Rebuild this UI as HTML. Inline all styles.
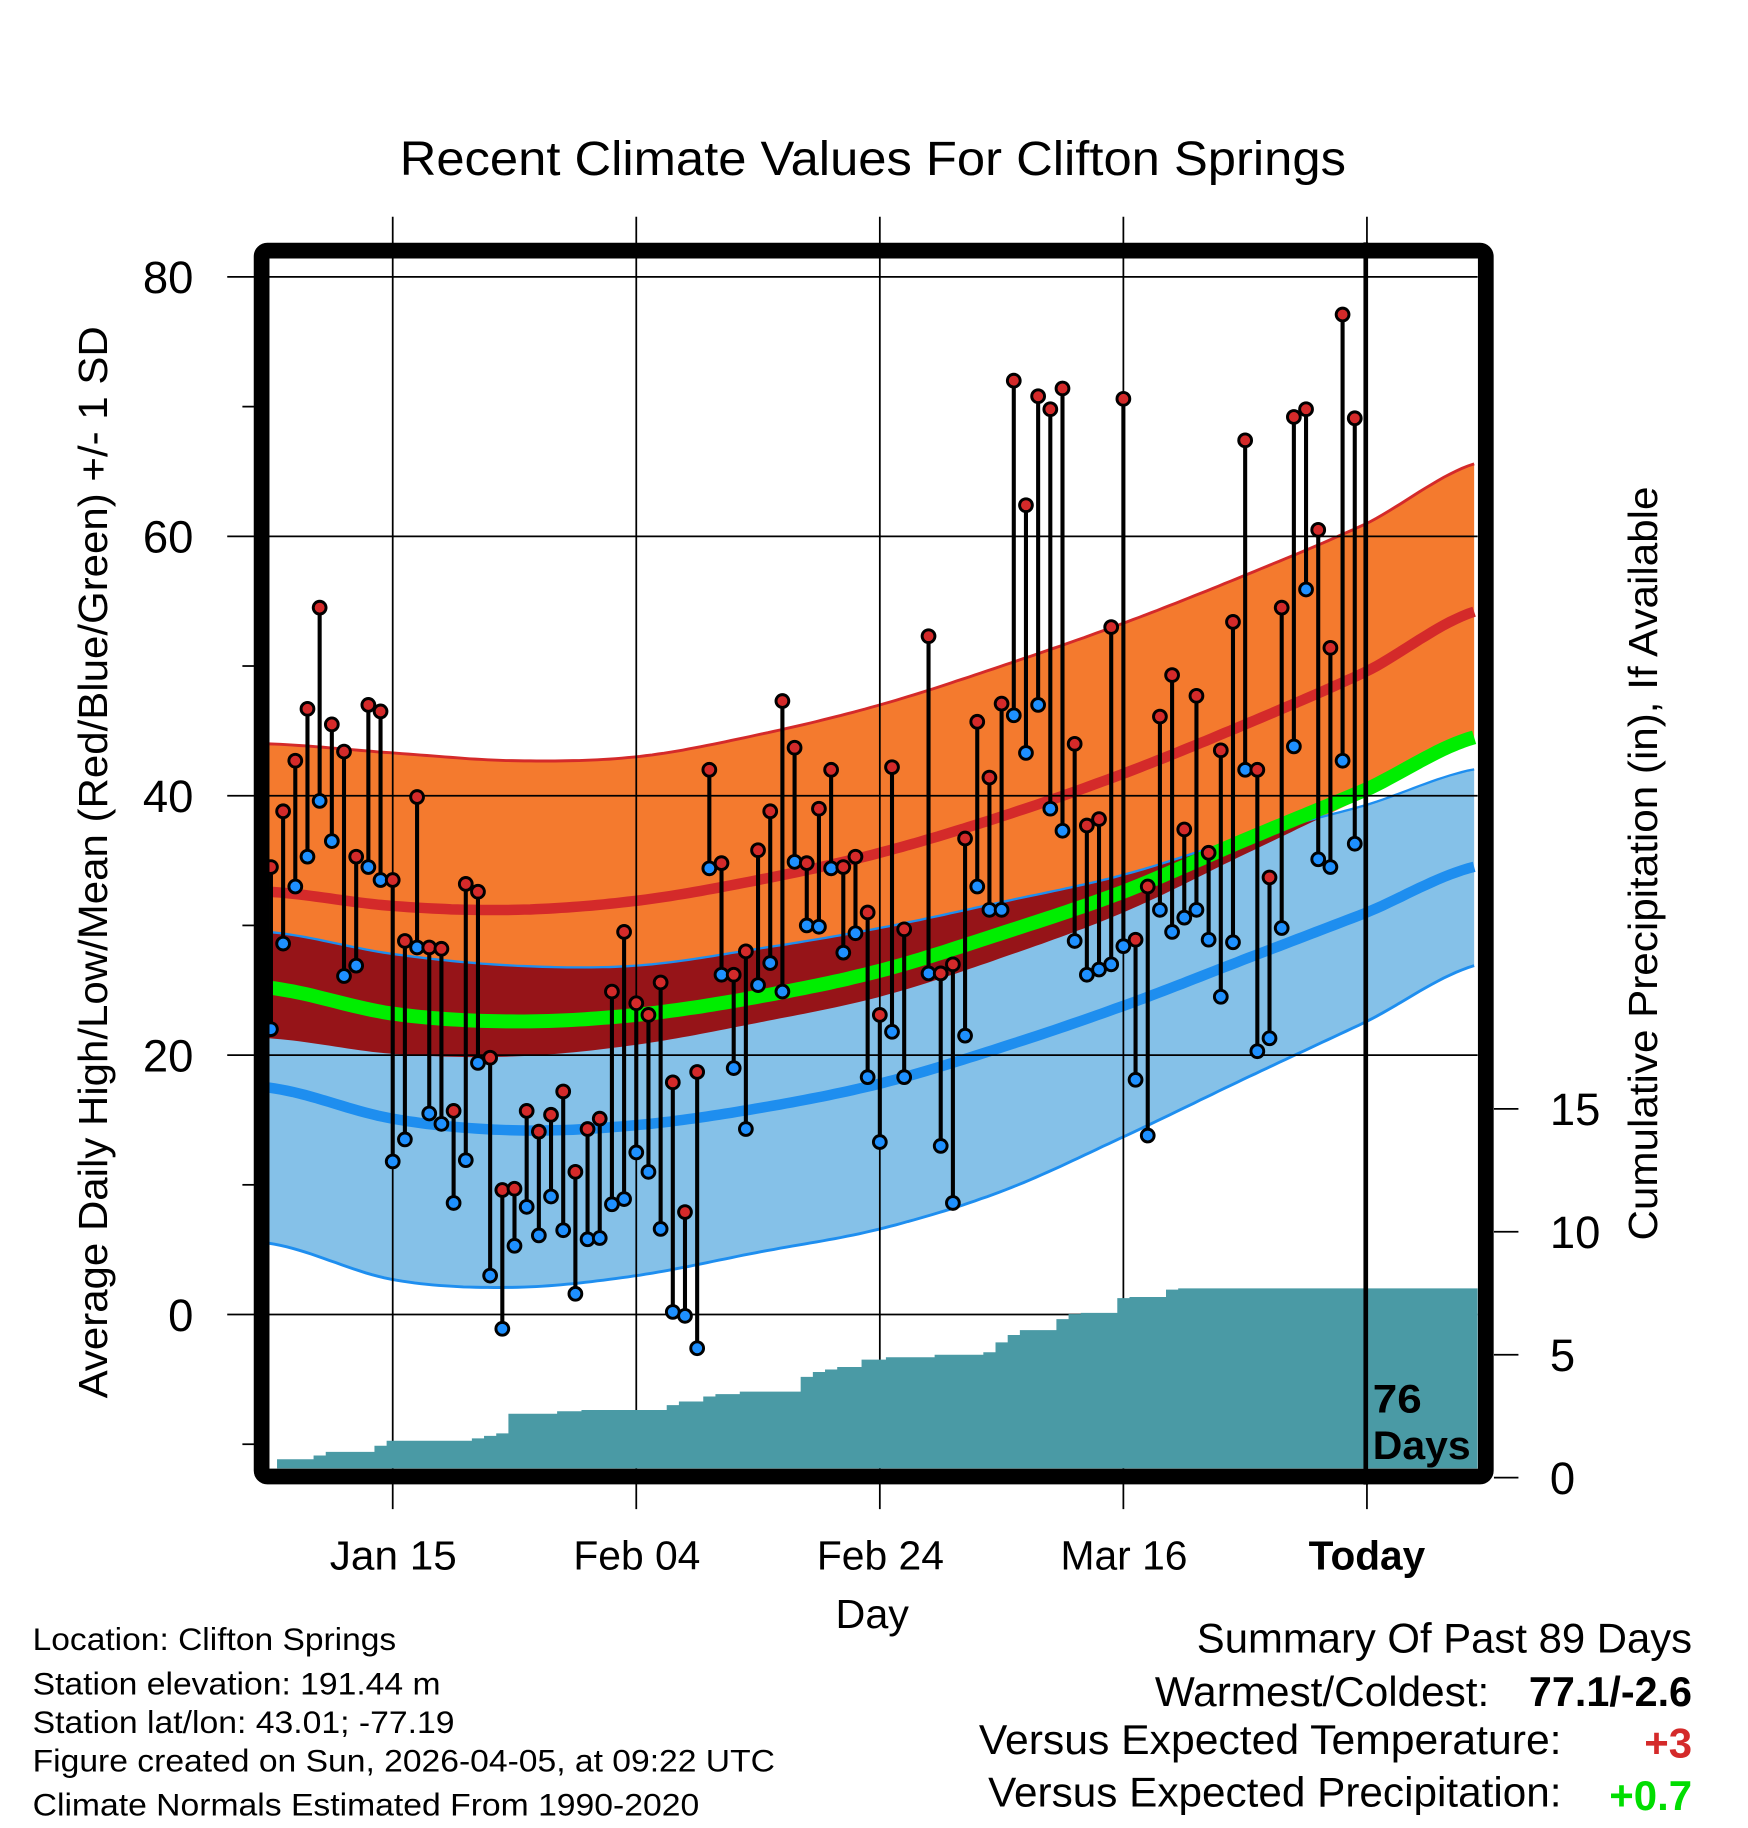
<!DOCTYPE html>
<html><head><meta charset="utf-8"><style>
html,body{margin:0;padding:0;background:#fff;}
svg{display:block;font-family:"Liberation Sans",Arial,sans-serif;}
</style></head><body>
<svg id="chart" width="1748" height="1828" viewBox="0 0 1500 1568.6" xmlns="http://www.w3.org/2000/svg">
<defs><clipPath id="plotclip"><rect x="231" y="222" width="1037" height="1038"/></clipPath></defs>
<text x="343" y="150" font-size="41" textLength="812" lengthAdjust="spacingAndGlyphs">Recent Climate Values For Clifton Springs</text>
<g id="bands" clip-path="url(#plotclip)"></g>
<g id="grid"></g>
<g id="precip" clip-path="url(#plotclip)"></g>
<g id="series" clip-path="url(#plotclip)"></g>
<g id="axes"></g>
<rect x="224.5" y="215" width="1050.5" height="1052" rx="5" fill="none" stroke="#000" stroke-width="13.5"/>
<line x1="1172" y1="208" x2="1172" y2="1274" stroke="#000" stroke-width="4"/>
<text x="1178" y="1212" font-size="34" font-weight="bold" textLength="42" lengthAdjust="spacingAndGlyphs">76</text>
<text x="1178" y="1252" font-size="34" font-weight="bold" textLength="84" lengthAdjust="spacingAndGlyphs">Days</text>
<text transform="translate(92,740) rotate(-90)" font-size="35" text-anchor="middle" textLength="920" lengthAdjust="spacingAndGlyphs">Average Daily High/Low/Mean (Red/Blue/Green) +/- 1 SD</text>
<text transform="translate(1422,741) rotate(-90)" font-size="35" text-anchor="middle" textLength="647" lengthAdjust="spacingAndGlyphs">Cumulative Precipitation (in), If Available</text>
<text x="717" y="1397" font-size="35" textLength="63" lengthAdjust="spacingAndGlyphs">Day</text>
<g font-size="27">
<text x="28" y="1416" textLength="312" lengthAdjust="spacingAndGlyphs">Location: Clifton Springs</text>
<text x="28" y="1454" textLength="350" lengthAdjust="spacingAndGlyphs">Station elevation: 191.44 m</text>
<text x="28" y="1487" textLength="362" lengthAdjust="spacingAndGlyphs">Station lat/lon: 43.01; -77.19</text>
<text x="28" y="1520" textLength="637" lengthAdjust="spacingAndGlyphs">Figure created on Sun, 2026-04-05, at 09:22 UTC</text>
<text x="28" y="1558" textLength="572" lengthAdjust="spacingAndGlyphs">Climate Normals Estimated From 1990-2020</text>
</g>
<g font-size="36">
<text x="1027" y="1418" textLength="425" lengthAdjust="spacingAndGlyphs">Summary Of Past 89 Days</text>
<text x="991" y="1464" textLength="287" lengthAdjust="spacingAndGlyphs">Warmest/Coldest:</text>
<text x="1312" y="1464" font-weight="bold" textLength="140" lengthAdjust="spacingAndGlyphs">77.1/-2.6</text>
<text x="840" y="1505" textLength="500" lengthAdjust="spacingAndGlyphs">Versus Expected Temperature:</text>
<text x="1452" y="1508" text-anchor="end" font-weight="bold" fill="#d42a2a">+3</text>
<text x="848" y="1550" textLength="492" lengthAdjust="spacingAndGlyphs">Versus Expected Precipitation:</text>
<text x="1452" y="1553" text-anchor="end" font-weight="bold" fill="#00dd00">+0.7</text>
</g>
</svg>
<script>
// data (day offset relative to Jan 15; index i -> day i-10)
const startDay = -10;
const highs = [34.5,38.8,42.7,46.7,54.5,45.5,43.4,35.3,47,46.5,33.5,28.8,39.9,28.3,28.2,15.7,33.2,32.6,19.8,9.6,9.7,15.7,14.1,15.4,17.2,11.0,14.3,15.1,24.9,29.5,24,23.1,25.6,17.9,7.9,18.7,42,34.8,26.2,28,35.8,38.8,47.3,43.7,34.8,39,42,34.5,35.3,31,23.1,42.2,29.7,null,52.3,26.3,27,36.7,45.7,41.4,47.1,72,62.4,70.8,69.8,71.4,44,37.7,38.2,53,70.6,28.9,33,46.1,49.3,37.4,47.7,35.6,43.5,53.4,67.4,42,33.7,54.5,69.2,69.8,60.5,51.4,77.1,69.1];
const lows = [22,28.6,33,35.3,39.6,36.5,26.1,26.9,34.5,33.5,11.8,13.5,28.3,15.5,14.7,8.6,11.9,19.4,3,-1.1,5.3,8.3,6.1,9.1,6.5,1.6,5.8,5.9,8.5,8.9,12.5,11,6.6,0.2,-0.1,-2.6,34.4,26.2,19,14.3,25.4,27.1,24.9,34.9,30,29.9,34.4,27.9,29.4,18.3,13.3,21.8,18.3,null,26.3,13,8.6,21.5,33,31.2,31.2,46.2,43.3,47,39,37.3,28.8,26.2,26.6,27,28.4,18.1,13.8,31.2,29.5,30.6,31.2,28.9,24.5,28.7,42,20.3,21.3,29.8,43.8,55.9,35.1,34.5,42.7,36.3];
const precip = [0.3,0.75,0.75,0.75,0.9,1.05,1.05,1.05,1.05,1.3,1.5,1.5,1.5,1.5,1.5,1.5,1.5,1.6,1.7,1.8,2.6,2.6,2.6,2.6,2.7,2.7,2.75,2.75,2.75,2.75,2.75,2.75,2.75,2.95,3.1,3.1,3.3,3.4,3.4,3.5,3.5,3.5,3.5,3.5,4.1,4.3,4.4,4.5,4.5,4.8,4.8,4.9,4.9,4.9,4.9,5.0,5.0,5.0,5.0,5.1,5.5,5.8,6.0,6.0,6.0,6.45,6.65,6.7,6.7,6.7,7.3,7.35,7.35,7.35,7.65,7.7,7.7,7.7,7.7,7.7,7.7,7.7,7.7,7.7,7.7,7.7,7.7,7.7,7.7,7.7];
// normals at knot days
const normDays = [-10.2,0,10,20,30,40,50,60,70,80,89.2];
const highTop = [44,43.3,42.7,43,44.7,47,50,53.3,57,61,65.7];
const highMean = [32.6,31.5,31.2,31.9,33.5,35.6,38.4,41.7,45.5,49.6,54.3];
const highBot = [21.3,20.1,19.9,20.8,22.5,24.5,27.5,31,35.5,40,44.5];
const lowTop = [29.5,27.8,26.9,26.9,28.2,29.8,31.8,33.9,36.8,39.3,42.1];
const lowMean = [17.5,15.1,14.2,14.6,15.9,17.8,20.6,23.8,27.4,31,34.6];
const lowBot = [5.5,2.7,2.1,3,4.8,6.6,9.5,13.7,18.2,22.6,27];
const meanT = [25.2,23.2,22.6,23.1,24.5,26.5,29.4,32.6,36.6,40.5,44.6];
const yTicks = [0,20,40,60,80];
const yMinor = [-10,10,30,50,70];
const xTickDays = [0,20,40,60,80];
const xTickLabels = ["Jan 15","Feb 04","Feb 24","Mar 16","Today"];
const pTicks = [0,5,10,15];

const NS="http://www.w3.org/2000/svg";
const X = d => 337 + d*10.45;
const Y = t => 1128 - t*11.13;
const P = p => 1268 - p*21.1;
function mk(tag, attrs, parent){const e=document.createElementNS(NS,tag);for(const k in attrs)e.setAttribute(k,attrs[k]);parent.appendChild(e);return e;}
function interp(vals, d){
  const n=normDays.length; let i=0;
  while(i<n-2 && d>normDays[i+1]) i++;
  const t=Math.max(0,Math.min(1,(d-normDays[i])/(normDays[i+1]-normDays[i])));
  const p0=vals[Math.max(0,i-1)],p1=vals[i],p2=vals[i+1],p3=vals[Math.min(n-1,i+2)];
  return 0.5*((2*p1)+(-p0+p2)*t+(2*p0-5*p1+4*p2-p3)*t*t+(-p0+3*p1-3*p2+p3)*t*t*t);
}
const samples=[]; for(let d=normDays[0]; d<=normDays[normDays.length-1]+0.01; d+=0.5) samples.push(d);
const line = v => samples.map(d=>X(d).toFixed(1)+","+Y(interp(v,d)).toFixed(1)).join(" ");
function band(top,bot){return samples.map(d=>X(d).toFixed(1)+","+Y(top(d)).toFixed(1)).concat(samples.slice().reverse().map(d=>X(d).toFixed(1)+","+Y(bot(d)).toFixed(1))).join(" ");}
const bands=document.getElementById('bands');
let e;
e=mk('polygon',{points:band(d=>interp(highTop,d),d=>interp(highBot,d)),fill:'#f47a2e'},bands);
 
e=mk('polygon',{points:band(d=>interp(lowTop,d),d=>interp(lowBot,d)),fill:'#85c1e8'},bands);
 
e=mk('polygon',{points:band(d=>{const u=interp(lowTop,d),l=interp(highBot,d);return Math.max(u,l);},d=>interp(highBot,d)),fill:'#961418'},bands);
 
e=mk('polyline',{points:line(highTop),fill:'none',stroke:'#d42a2a','stroke-width':2.5},bands);
 
e=mk('polyline',{points:line(lowTop),fill:'none',stroke:'#1e8eef','stroke-width':2},bands);
 
e=mk('polyline',{points:line(lowBot),fill:'none',stroke:'#1e8eef','stroke-width':2.5},bands);
 
e=mk('polyline',{points:line(highMean),fill:'none',stroke:'#d42a2a','stroke-width':9},bands);
 
e=mk('polyline',{points:line(lowMean),fill:'none',stroke:'#1e8eef','stroke-width':9},bands);
 
e=mk('polyline',{points:line(meanT),fill:'none',stroke:'#00ee00','stroke-width':12},bands);
 

const grid=document.getElementById('grid'), axes=document.getElementById('axes');
yTicks.forEach(t=>{
  e=mk('line',{x1:195,x2:1268,y1:Y(t),y2:Y(t),stroke:'#000','stroke-width':1.5},grid);
   
  e=mk('text',{x:166,y:Y(t)+14,'font-size':39,'text-anchor':'end'},axes); e.textContent=t;
   
});
yMinor.forEach(t=>{
  e=mk('line',{x1:208,x2:218,y1:Y(t),y2:Y(t),stroke:'#000','stroke-width':1.5},axes);
   
});
xTickDays.forEach((d,i)=>{
  e=mk('line',{x1:X(d),x2:X(d),y1:186,y2:1295,stroke:'#000','stroke-width':1.5},grid);
   
  e=mk('text',{x:X(d)-(i==4?50:54),y:1347,'font-size':35,'font-weight':i==4?'bold':'normal',textLength:i==4?100:109,lengthAdjust:'spacingAndGlyphs'},axes); e.textContent=xTickLabels[i];
   
});
pTicks.forEach(p=>{
  e=mk('line',{x1:1282,x2:1303,y1:P(p),y2:P(p),stroke:'#000','stroke-width':1.5},axes);
   
  e=mk('text',{x:1330,y:P(p)+14,'font-size':39},axes); e.textContent=p;
   
});

const pg=document.getElementById('precip');
let pts=[X(startDay-0.5)+","+P(0)];
precip.forEach((v,i)=>{const d=startDay+i; pts.push(X(d-0.5)+","+P(v)); pts.push(X(d+0.5)+","+P(v));});
const last=precip[precip.length-1];
pts.push("1270,"+P(last)); pts.push("1270,"+P(0));
e=mk('polygon',{points:pts.join(" "),fill:'#4a9aa5'},pg);
 

const sg=document.getElementById('series');
highs.forEach((h,i)=>{
  const l=lows[i]; if(h==null||l==null) return;
  const x=X(startDay+i);
  e=mk('line',{x1:x,x2:x,y1:Y(h),y2:Y(l),stroke:'#000','stroke-width':3.5},sg);
   
});
highs.forEach((h,i)=>{
  const l=lows[i]; if(h==null||l==null) return;
  const x=X(startDay+i);
  e=mk('circle',{cx:x,cy:Y(l),r:5.5,fill:'#1e90ff',stroke:'#000','stroke-width':2.5},sg);
   
  e=mk('circle',{cx:x,cy:Y(h),r:5.5,fill:'#d42a2a',stroke:'#000','stroke-width':2.5},sg);
   
});
</script>
</body></html>
